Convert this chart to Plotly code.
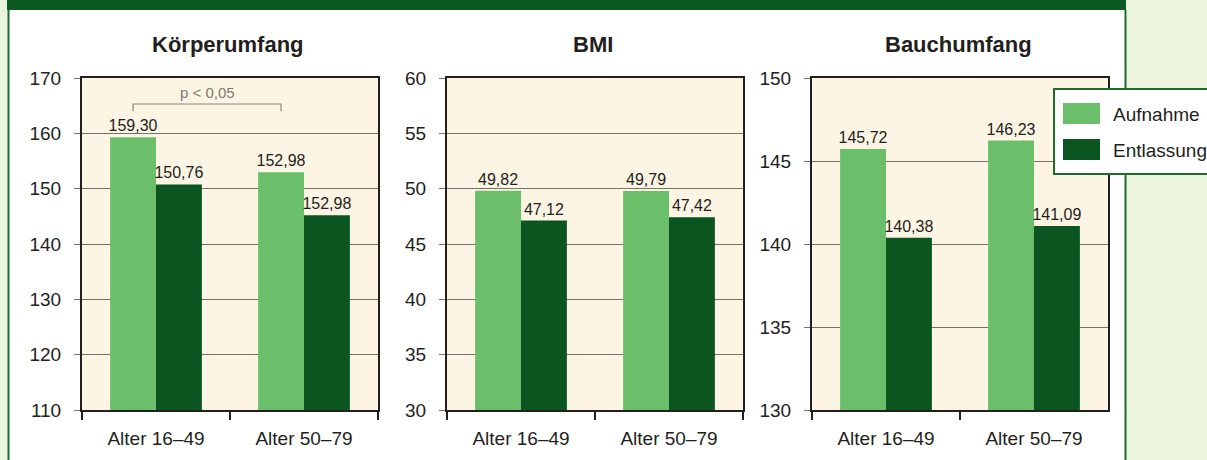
import plotly.graph_objects as go

W, H = 1207, 460

categories = ["Alter 16–49", "Alter 50–79"]
series_names = ["Aufnahme", "Entlassung"]

panel_titles = ["Körperumfang", "BMI", "Bauchumfang"]

koerper_aufnahme = [159.30, 152.98]
koerper_entlassung = [150.76, 145.20]
koerper_aufnahme_labels = ["159,30", "152,98"]
koerper_entlassung_labels = ["150,76", "152,98"]

bmi_aufnahme = [49.82, 49.79]
bmi_entlassung = [47.12, 47.42]
bmi_aufnahme_labels = ["49,82", "49,79"]
bmi_entlassung_labels = ["47,12", "47,42"]

bauch_aufnahme = [145.72, 146.23]
bauch_entlassung = [140.38, 141.09]
bauch_aufnahme_labels = ["145,72", "146,23"]
bauch_entlassung_labels = ["140,38", "141,09"]

y_ranges = [(110, 170, 10), (30, 60, 5), (130, 150, 5)]

p_text = "p < 0,05"

LIGHT = "#6BBF6A"
DARK = "#0A5520"
BANNER = "#0B5A22"
BG_GREEN = "#EBF4DD"
CREAM = "#FCF5E3"
INK = "#231F20"
GRID = "#77716B"
FONT = "Liberation Sans, Arial, Helvetica, sans-serif"

# plot area pixel boxes (left, right)
px_boxes = [(82, 378), (447, 743), (812, 1108)]
top_px, bottom_px = 78, 410

fig = go.Figure()

data = [
    (koerper_aufnahme, koerper_entlassung, koerper_aufnahme_labels, koerper_entlassung_labels),
    (bmi_aufnahme, bmi_entlassung, bmi_aufnahme_labels, bmi_entlassung_labels),
    (bauch_aufnahme, bauch_entlassung, bauch_aufnahme_labels, bauch_entlassung_labels),
]

for i, (a, e, al, el) in enumerate(data):
    sfx = "" if i == 0 else str(i + 1)
    for vals, labels, name, color in [(a, al, series_names[0], LIGHT), (e, el, series_names[1], DARK)]:
        fig.add_trace(go.Bar(
            x=categories, y=vals, name=name, marker=dict(color=color, line=dict(width=0)),
            text=labels, textposition="outside", constraintext="none", cliponaxis=False,
            textfont=dict(size=16, color=INK, family=FONT),
            xaxis="x" + sfx, yaxis="y" + sfx, showlegend=False,
        ))

layout = dict(
    width=W, height=H, autosize=False,
    margin=dict(l=0, r=0, t=0, b=0, pad=0, autoexpand=False),
    paper_bgcolor="white", plot_bgcolor=CREAM,
    barmode="group", bargap=0.38, bargroupgap=0,
    font=dict(family=FONT, color=INK),
    showlegend=False,
)

ydom = [1 - bottom_px / H, 1 - top_px / H]
for i, ((l, r), (lo, hi, dt)) in enumerate(zip(px_boxes, y_ranges)):
    sfx = "" if i == 0 else str(i + 1)
    layout["xaxis" + sfx] = dict(
        domain=[l / W, r / W], anchor="y" + sfx, type="category", automargin=False,
        tickson="boundaries", ticks="outside", ticklen=8, tickwidth=2, tickcolor=INK,
        ticklabelstandoff=10,
        showline=True, mirror=True, linecolor=INK, linewidth=2, showgrid=False,
        tickfont=dict(size=19, color=INK, family=FONT), fixedrange=True,
    )
    layout["yaxis" + sfx] = dict(
        domain=ydom, anchor="x" + sfx, range=[lo, hi], dtick=dt, tick0=lo, automargin=False,
        showgrid=True, gridcolor=GRID, gridwidth=1, zeroline=False,
        showline=True, mirror=True, linecolor=INK, linewidth=2,
        ticks="outside", ticklen=6, tickwidth=1, tickcolor=GRID,
        ticklabelstandoff=9,
        tickfont=dict(size=19, color=INK, family=FONT), fixedrange=True,
    )

fig.update_layout(**layout)

def px_x(x):
    return x / W

def px_y(y):
    return 1 - y / H

shapes = []
# background frame elements
shapes.append(dict(type="rect", xref="paper", yref="paper", x0=0, x1=px_x(8), y0=0, y1=1,
                   fillcolor=BG_GREEN, line=dict(width=0), layer="below"))
shapes.append(dict(type="rect", xref="paper", yref="paper", x0=px_x(1125), x1=1, y0=0, y1=1,
                   fillcolor=BG_GREEN, line=dict(width=0), layer="below"))
shapes.append(dict(type="rect", xref="paper", yref="paper", x0=px_x(7), x1=px_x(1126), y0=px_y(10), y1=1,
                   fillcolor=BANNER, line=dict(width=0), layer="above"))
shapes.append(dict(type="line", xref="paper", yref="paper", x0=px_x(8.5), x1=px_x(8.5), y0=0, y1=px_y(10),
                   line=dict(color="#1E6B2E", width=2), layer="above"))
shapes.append(dict(type="line", xref="paper", yref="paper", x0=px_x(1125.5), x1=px_x(1125.5), y0=0, y1=px_y(10),
                   line=dict(color="#1E6B2E", width=2), layer="above"))

# significance bracket between the Aufnahme bars
shapes.append(dict(type="path", xref="x", yref="y",
                   path="M -0.155,164.0 L -0.155,165.3 L 0.845,165.3 L 0.845,164.0",
                   line=dict(color="#8C8782", width=1.2), layer="above"))

# legend box
shapes.append(dict(type="rect", xref="paper", yref="paper", x0=px_x(1054), x1=px_x(1215),
                   y0=px_y(174), y1=px_y(89), fillcolor="white",
                   line=dict(color="#1E6B2E", width=2), layer="above"))
shapes.append(dict(type="rect", xref="paper", yref="paper", x0=px_x(1063), x1=px_x(1100),
                   y0=px_y(124), y1=px_y(103), fillcolor=LIGHT, line=dict(width=0), layer="above"))
shapes.append(dict(type="rect", xref="paper", yref="paper", x0=px_x(1063), x1=px_x(1100),
                   y0=px_y(160), y1=px_y(139), fillcolor=DARK, line=dict(width=0), layer="above"))

annotations = []
for t, (l, r) in zip(panel_titles, px_boxes):
    annotations.append(dict(text="<b>" + t + "</b>", xref="paper", yref="paper",
                            x=px_x((l + r) / 2 - 2), y=px_y(44), xanchor="center", yanchor="middle",
                            showarrow=False, font=dict(size=22, color=INK, family=FONT)))
annotations.append(dict(text=p_text, xref="x", yref="y", x=0.345, y=165.4,
                        xanchor="center", yanchor="bottom", showarrow=False,
                        font=dict(size=15, color="#7F7A75", family=FONT)))
for name, ycen in zip(series_names, [114, 150]):
    annotations.append(dict(text=name, xref="paper", yref="paper", x=px_x(1111), y=px_y(ycen),
                            xanchor="left", yanchor="middle", showarrow=False,
                            font=dict(size=19, color=INK, family=FONT)))

fig.update_layout(shapes=shapes, annotations=annotations)

fig.write_html("out.html")
